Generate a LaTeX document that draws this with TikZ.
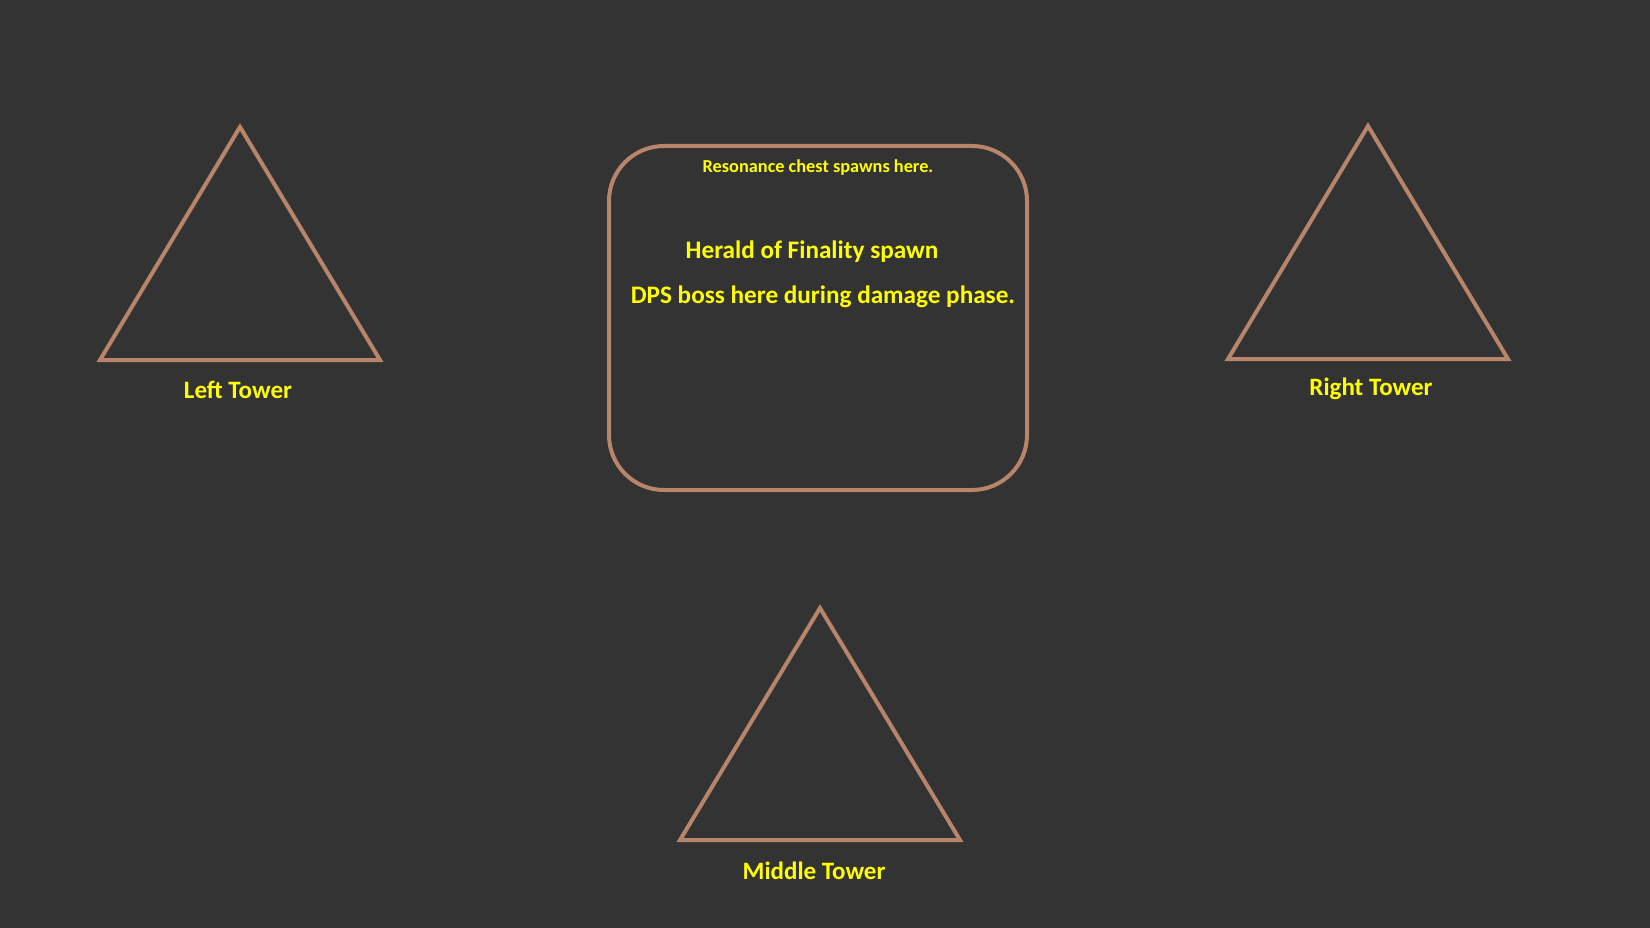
\documentclass[tikz,border=0pt]{standalone}
\usepackage{fontspec}
\setmainfont{Carlito}
\usetikzlibrary{positioning}
\definecolor{bgGrey}{HTML}{333333}
\definecolor{towerBrown}{HTML}{B8856A}
\definecolor{textYellow}{HTML}{FFFF00}
\begin{document}
\begin{tikzpicture}[x=1pt,y=-1pt]

  \coordinate (LeftTop) at (240,127);
  \coordinate (RightTop) at (1368,126);
  \coordinate (MiddleTop) at (820,608);
  \coordinate (Box) at (818,318);

  \tikzstyle{tower}=[draw=towerBrown,line width=4pt];
  \tikzstyle{arena}=[draw=towerBrown,line width=4pt,
                     shape=rectangle,rounded corners=55pt,
                     minimum width=418pt,minimum height=344pt,
                     inner sep=0pt];
  \tikzstyle{tlabel}=[text=textYellow,inner sep=0pt,anchor=base,
                      font=\bfseries\fontsize{25}{30}\selectfont];
  \tikzstyle{blabel}=[text=textYellow,inner sep=0pt,anchor=base,
                      font=\bfseries\fontsize{25.2}{30}\selectfont];

  \fill[bgGrey] (0,0) rectangle (1650,928);
  \useasboundingbox (0,0) rectangle (1650,928);

  \draw[tower] (LeftTop) -- ++(140,233) -- ++(-280,0) -- cycle;
  \node[tlabel] (LeftLabel) at (238,398) {Left Tower};

  \draw[tower] (RightTop) -- ++(140,233) -- ++(-280,0) -- cycle;
  \node[tlabel] (RightLabel) at (1371,395) {Right Tower};

  \draw[tower] (MiddleTop) -- ++(140,232) -- ++(-280,0) -- cycle;
  \node[tlabel] (MiddleLabel) at (814,879) {Middle Tower};

  \node[arena] (ArenaBox) at (Box) {};
  \node[tlabel,font=\bfseries\fontsize{18.3}{22}\selectfont] (ChestText)
       at (818,173) {Resonance chest spawns here.};
  \node[blabel] (HeraldText) at (812,259) {Herald of Finality spawn};
  \node[blabel] (DpsText) at (823,303) {DPS boss here during damage phase.};
\end{tikzpicture}
\end{document}
